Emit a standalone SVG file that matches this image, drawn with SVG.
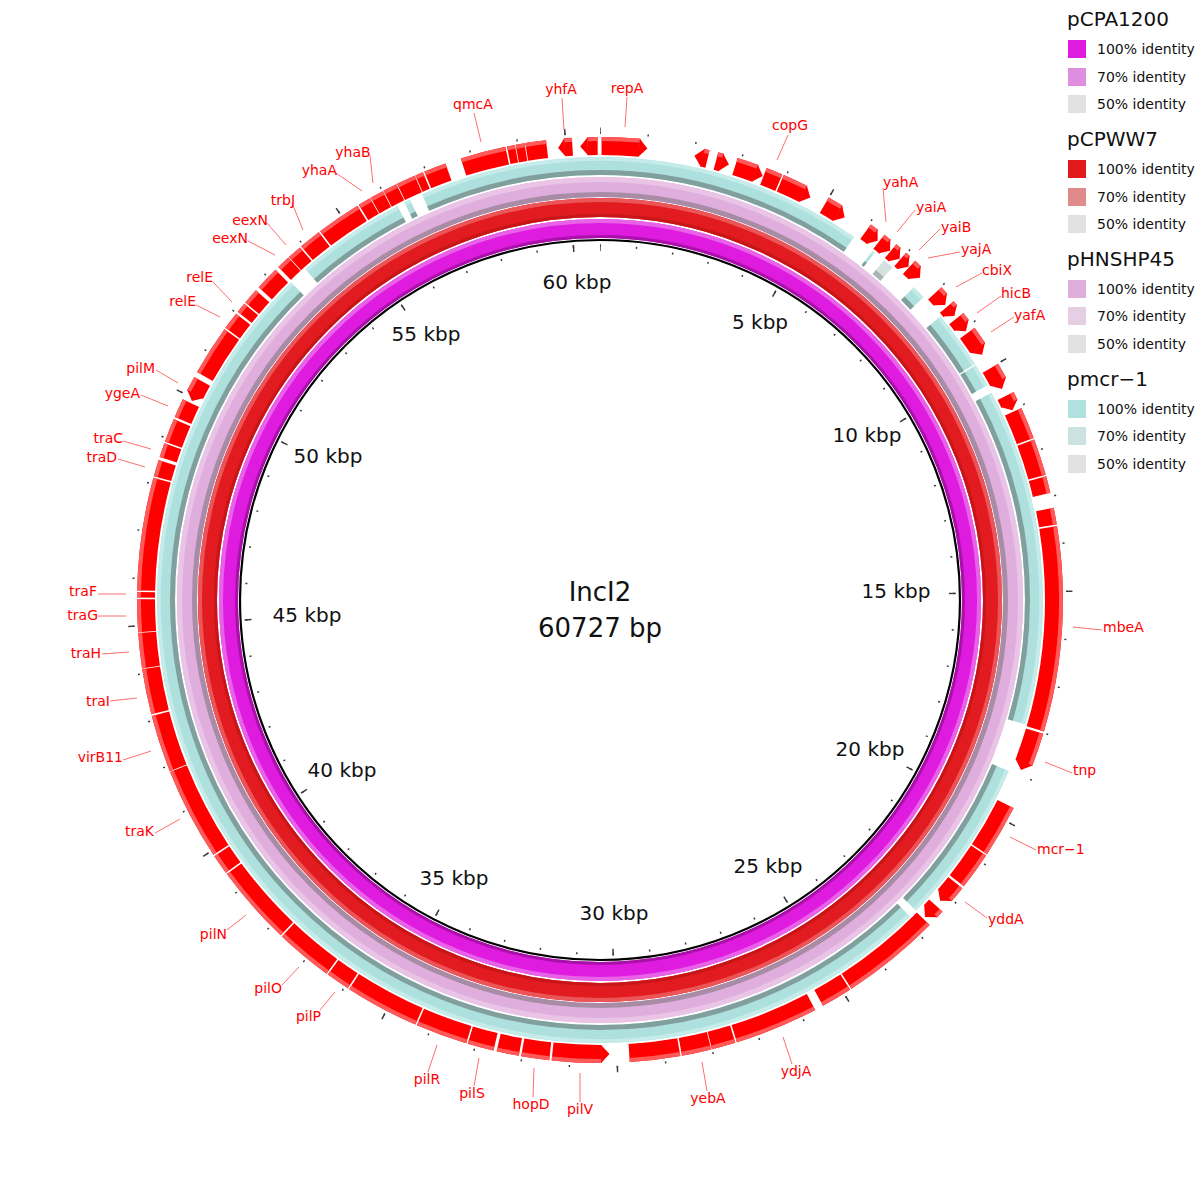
<svg xmlns="http://www.w3.org/2000/svg" xmlns:xlink="http://www.w3.org/1999/xlink" width="1200" height="1200" viewBox="0 0 1200 1200">
<style>
text{font-family:"DejaVu Sans","Liberation Sans",sans-serif}
.lbl{font-size:14px;fill:#FF0000}
.ll line{stroke:#FF6F6F;stroke-width:1}
.kbp{font-size:20px;fill:#111;text-anchor:middle}
.ctr{font-size:26px;fill:#111;text-anchor:middle}
.lt{font-size:20px;fill:#111}
.li{font-size:14px;fill:#111}
.tk{fill:none;stroke:#3a3a3a}
</style>
<defs>
<g id="gb" fill="none" transform="rotate(-90 600 600)">
<circle cx="600" cy="600" r="454" pathLength="360" stroke-dasharray="4.8 355.2" stroke-dashoffset="-0.2"/>
<circle cx="600" cy="600" r="454" pathLength="360" stroke-dasharray="0.7 359.3" stroke-dashoffset="-13"/>
<circle cx="600" cy="600" r="454" pathLength="360" stroke-dasharray="0.7 359.3" stroke-dashoffset="-14.8"/>
<circle cx="600" cy="600" r="454" pathLength="360" stroke-dasharray="2.7 357.3" stroke-dashoffset="-17.3"/>
<circle cx="600" cy="600" r="454" pathLength="360" stroke-dasharray="2.1 357.9" stroke-dashoffset="-21.1"/>
<circle cx="600" cy="600" r="454" pathLength="360" stroke-dasharray="3.2 356.8" stroke-dashoffset="-23.4"/>
<circle cx="600" cy="600" r="454" pathLength="360" stroke-dasharray="2 358" stroke-dashoffset="-29.6"/>
<circle cx="600" cy="600" r="454" pathLength="360" stroke-dasharray="1.1 358.9" stroke-dashoffset="-35.8"/>
<circle cx="600" cy="600" r="454" pathLength="360" stroke-dasharray="1 359" stroke-dashoffset="-37.9"/>
<circle cx="600" cy="600" r="454" pathLength="360" stroke-dasharray="0.7 359.3" stroke-dashoffset="-39.8"/>
<circle cx="600" cy="600" r="454" pathLength="360" stroke-dasharray="0.6 359.4" stroke-dashoffset="-41.4"/>
<circle cx="600" cy="600" r="454" pathLength="360" stroke-dasharray="1 359" stroke-dashoffset="-42.9"/>
<circle cx="600" cy="600" r="454" pathLength="360" stroke-dasharray="1.1 358.9" stroke-dashoffset="-47.5"/>
<circle cx="600" cy="600" r="454" pathLength="360" stroke-dasharray="0.7 359.3" stroke-dashoffset="-49.8"/>
<circle cx="600" cy="600" r="454" pathLength="360" stroke-dasharray="1.1 358.9" stroke-dashoffset="-51.7"/>
<circle cx="600" cy="600" r="454" pathLength="360" stroke-dasharray="2.3 357.7" stroke-dashoffset="-54"/>
<circle cx="600" cy="600" r="454" pathLength="360" stroke-dasharray="2 358" stroke-dashoffset="-59.3"/>
<circle cx="600" cy="600" r="454" pathLength="360" stroke-dasharray="1.1 358.9" stroke-dashoffset="-63.3"/>
<circle cx="600" cy="600" r="454" pathLength="360" stroke-dasharray="4 356" stroke-dashoffset="-65.5"/>
<circle cx="600" cy="600" r="454" pathLength="360" stroke-dasharray="4.6 355.4" stroke-dashoffset="-69.7"/>
<circle cx="600" cy="600" r="454" pathLength="360" stroke-dasharray="2.1 357.9" stroke-dashoffset="-74.5"/>
<circle cx="600" cy="600" r="454" pathLength="360" stroke-dasharray="2.1 357.9" stroke-dashoffset="-78.5"/>
<circle cx="600" cy="600" r="454" pathLength="360" stroke-dasharray="25.7 334.3" stroke-dashoffset="-80.8"/>
<circle cx="600" cy="600" r="454" pathLength="360" stroke-dasharray="4.2 355.8" stroke-dashoffset="-106.8"/>
<circle cx="600" cy="600" r="454" pathLength="360" stroke-dasharray="6.6 353.4" stroke-dashoffset="-116.7"/>
<circle cx="600" cy="600" r="454" pathLength="360" stroke-dasharray="4.7 355.3" stroke-dashoffset="-123.5"/>
<circle cx="600" cy="600" r="454" pathLength="360" stroke-dasharray="2.1 357.9" stroke-dashoffset="-128.5"/>
<circle cx="600" cy="600" r="454" pathLength="360" stroke-dasharray="1 359" stroke-dashoffset="-132.3"/>
<circle cx="600" cy="600" r="454" pathLength="360" stroke-dasharray="12.5 347.5" stroke-dashoffset="-134.6"/>
<circle cx="600" cy="600" r="454" pathLength="360" stroke-dasharray="3.9 356.1" stroke-dashoffset="-147.3"/>
<circle cx="600" cy="600" r="454" pathLength="360" stroke-dasharray="10.5 349.5" stroke-dashoffset="-152.3"/>
<circle cx="600" cy="600" r="454" pathLength="360" stroke-dasharray="3 357" stroke-dashoffset="-163"/>
<circle cx="600" cy="600" r="454" pathLength="360" stroke-dasharray="3.7 356.3" stroke-dashoffset="-166.1"/>
<circle cx="600" cy="600" r="454" pathLength="360" stroke-dasharray="6.3 353.7" stroke-dashoffset="-170"/>
<circle cx="600" cy="600" r="454" pathLength="360" stroke-dasharray="6.2 353.8" stroke-dashoffset="-179.8"/>
<circle cx="600" cy="600" r="454" pathLength="360" stroke-dasharray="3.5 356.5" stroke-dashoffset="-186.3"/>
<circle cx="600" cy="600" r="454" pathLength="360" stroke-dasharray="2.8 357.2" stroke-dashoffset="-190.1"/>
<circle cx="600" cy="600" r="454" pathLength="360" stroke-dasharray="3.3 356.7" stroke-dashoffset="-193.3"/>
<circle cx="600" cy="600" r="454" pathLength="360" stroke-dasharray="6.5 353.5" stroke-dashoffset="-196.8"/>
<circle cx="600" cy="600" r="454" pathLength="360" stroke-dasharray="9.3 350.7" stroke-dashoffset="-203.5"/>
<circle cx="600" cy="600" r="454" pathLength="360" stroke-dasharray="3 357" stroke-dashoffset="-213"/>
<circle cx="600" cy="600" r="454" pathLength="360" stroke-dasharray="7.2 352.8" stroke-dashoffset="-216.2"/>
<circle cx="600" cy="600" r="454" pathLength="360" stroke-dasharray="10.1 349.9" stroke-dashoffset="-223.6"/>
<circle cx="600" cy="600" r="454" pathLength="360" stroke-dasharray="2.5 357.5" stroke-dashoffset="-233.9"/>
<circle cx="600" cy="600" r="454" pathLength="360" stroke-dasharray="11.6 348.4" stroke-dashoffset="-236.6"/>
<circle cx="600" cy="600" r="454" pathLength="360" stroke-dasharray="7.2 352.8" stroke-dashoffset="-248.3"/>
<circle cx="600" cy="600" r="454" pathLength="360" stroke-dasharray="5.7 354.3" stroke-dashoffset="-255.7"/>
<circle cx="600" cy="600" r="454" pathLength="360" stroke-dasharray="4.4 355.6" stroke-dashoffset="-261.5"/>
<circle cx="600" cy="600" r="454" pathLength="360" stroke-dasharray="4.1 355.9" stroke-dashoffset="-266"/>
<circle cx="600" cy="600" r="454" pathLength="360" stroke-dasharray="0.7 359.3" stroke-dashoffset="-270.3"/>
<circle cx="600" cy="600" r="454" pathLength="360" stroke-dasharray="14.1 345.9" stroke-dashoffset="-271.2"/>
<circle cx="600" cy="600" r="454" pathLength="360" stroke-dasharray="2.1 357.9" stroke-dashoffset="-285.5"/>
<circle cx="600" cy="600" r="454" pathLength="360" stroke-dasharray="1.8 358.2" stroke-dashoffset="-288"/>
<circle cx="600" cy="600" r="454" pathLength="360" stroke-dasharray="3 357" stroke-dashoffset="-290"/>
<circle cx="600" cy="600" r="454" pathLength="360" stroke-dasharray="2.4 357.6" stroke-dashoffset="-293.3"/>
<circle cx="600" cy="600" r="454" pathLength="360" stroke-dasharray="1.9 358.1" stroke-dashoffset="-296.9"/>
<circle cx="600" cy="600" r="454" pathLength="360" stroke-dasharray="6.3 353.7" stroke-dashoffset="-299.5"/>
<circle cx="600" cy="600" r="454" pathLength="360" stroke-dasharray="2.2 357.8" stroke-dashoffset="-306"/>
<circle cx="600" cy="600" r="454" pathLength="360" stroke-dasharray="1.3 358.7" stroke-dashoffset="-308.5"/>
<circle cx="600" cy="600" r="454" pathLength="360" stroke-dasharray="2 358" stroke-dashoffset="-310"/>
<circle cx="600" cy="600" r="454" pathLength="360" stroke-dasharray="3 357" stroke-dashoffset="-312.5"/>
<circle cx="600" cy="600" r="454" pathLength="360" stroke-dasharray="1.7 358.3" stroke-dashoffset="-316"/>
<circle cx="600" cy="600" r="454" pathLength="360" stroke-dasharray="1.8 358.2" stroke-dashoffset="-317.8"/>
<circle cx="600" cy="600" r="454" pathLength="360" stroke-dasharray="2.8 357.2" stroke-dashoffset="-319.8"/>
<circle cx="600" cy="600" r="454" pathLength="360" stroke-dasharray="5.6 354.4" stroke-dashoffset="-322.8"/>
<circle cx="600" cy="600" r="454" pathLength="360" stroke-dasharray="1.6 358.4" stroke-dashoffset="-328.6"/>
<circle cx="600" cy="600" r="454" pathLength="360" stroke-dasharray="1.7 358.3" stroke-dashoffset="-330.3"/>
<circle cx="600" cy="600" r="454" pathLength="360" stroke-dasharray="1.8 358.2" stroke-dashoffset="-332.1"/>
<circle cx="600" cy="600" r="454" pathLength="360" stroke-dasharray="2.4 357.6" stroke-dashoffset="-334"/>
<circle cx="600" cy="600" r="454" pathLength="360" stroke-dasharray="1 359" stroke-dashoffset="-336.5"/>
<circle cx="600" cy="600" r="454" pathLength="360" stroke-dasharray="2.8 357.2" stroke-dashoffset="-337.7"/>
<circle cx="600" cy="600" r="454" pathLength="360" stroke-dasharray="5.7 354.3" stroke-dashoffset="-342.5"/>
<circle cx="600" cy="600" r="454" pathLength="360" stroke-dasharray="1 359" stroke-dashoffset="-348.4"/>
<circle cx="600" cy="600" r="454" pathLength="360" stroke-dasharray="1.1 358.9" stroke-dashoffset="-349.5"/>
<circle cx="600" cy="600" r="454" pathLength="360" stroke-dasharray="2.6 357.4" stroke-dashoffset="-350.7"/>
<circle cx="600" cy="600" r="454" pathLength="360" stroke-dasharray="1 359" stroke-dashoffset="-355.5"/>
<circle cx="600" cy="600" r="454" pathLength="360" stroke-dasharray="1.3 358.7" stroke-dashoffset="-358.4"/>
</g>
<g id="ts" fill="none" transform="rotate(-90 600 600)">
<circle cx="600" cy="600" r="434" pathLength="360" stroke-dasharray="58.7 301.3" stroke-dashoffset="-336.3"/>
<circle cx="600" cy="600" r="434" pathLength="360" stroke-dasharray="0.35 359.65" stroke-dashoffset="-38"/>
<circle cx="600" cy="600" r="434" pathLength="360" stroke-dasharray="1.8 358.2" stroke-dashoffset="-45.1"/>
<circle cx="600" cy="600" r="434" pathLength="360" stroke-dasharray="7.6 352.4" stroke-dashoffset="-50.2"/>
<circle cx="600" cy="600" r="434" pathLength="360" stroke-dasharray="3 357" stroke-dashoffset="-58"/>
<circle cx="600" cy="600" r="434" pathLength="360" stroke-dasharray="44.2 315.8" stroke-dashoffset="-62.1"/>
<circle cx="600" cy="600" r="434" pathLength="360" stroke-dasharray="21.8 338.2" stroke-dashoffset="-112.7"/>
<circle cx="600" cy="600" r="434" pathLength="360" stroke-dasharray="180.2 179.8" stroke-dashoffset="-135.6"/>
<circle cx="600" cy="600" r="434" pathLength="360" stroke-dasharray="14.5 345.5" stroke-dashoffset="-318.3"/>
<circle cx="600" cy="600" r="434" pathLength="360" stroke-dasharray="0.8 359.2" stroke-dashoffset="-333.8"/>
</g>
</defs>

<rect width="1200" height="1200" fill="#FFFFFF"/>

<g id="ring-pCPA1200" fill="none">
<circle cx="600" cy="600" r="371.5" stroke="#DF1BDF" stroke-width="19"/>
<circle cx="600" cy="600" r="379" stroke="#E862E8" stroke-width="4"/>
<circle cx="600" cy="600" r="363.5" stroke="#A810A8" stroke-width="3"/>
</g>
<g id="ring-pCPWW7" fill="none">
<circle cx="600" cy="600" r="392.5" stroke="#E11B1F" stroke-width="19"/>
<circle cx="600" cy="600" r="400" stroke="#EB5558" stroke-width="4"/>
<circle cx="600" cy="600" r="384.5" stroke="#C6161A" stroke-width="3"/>
</g>
<g id="ring-pHNSHP45" fill="none">
<circle cx="600" cy="600" r="413" stroke="#E0AEDD" stroke-width="20"/>
<circle cx="600" cy="600" r="420.5" stroke="#EAC4E7" stroke-width="5"/>
<circle cx="600" cy="600" r="405.5" stroke="#A88CA5" stroke-width="5"/>
</g>
<g id="ring-pmcr-1" fill="none">
<use xlink:href="#ts" href="#ts" stroke="#AEE0DE" stroke-width="18"/>
<use xlink:href="#ts" href="#ts" stroke="#C6ECEA" stroke-width="3.4" transform="translate(600 600) scale(1.01613) translate(-600 -600)"/>
<use xlink:href="#ts" href="#ts" stroke="#819F9D" stroke-width="5.1" transform="translate(600 600) scale(0.98502) translate(-600 -600)"/>
<g transform="rotate(-90 600 600)">
<circle cx="600" cy="600" r="434" pathLength="360" stroke-dasharray="1.4 358.6" stroke-dashoffset="-39.9" stroke="#D4E1E0" stroke-width="18"/>
<circle cx="600" cy="600" r="427.5" pathLength="360" stroke-dasharray="1.4 358.6" stroke-dashoffset="-39.9" stroke="#A9B4B3" stroke-width="5"/>
</g>
</g>

<g id="backbone">
<circle cx="600" cy="600" r="360" fill="none" stroke="#000" stroke-width="2.2"/>
<g transform="rotate(-90 600 600)">
<circle class="tk" cx="600" cy="600" r="354" pathLength="60727" stroke-width="2" stroke-dasharray="40 960" stroke-dashoffset="20"/>
<circle class="tk" cx="600" cy="600" r="352.5" pathLength="60727" stroke-width="7" stroke-dasharray="40 4960" stroke-dashoffset="20"/>
<circle class="tk" cx="600" cy="600" r="467" pathLength="60727" stroke-width="2" stroke-dasharray="30 970" stroke-dashoffset="15"/>
<circle class="tk" cx="600" cy="600" r="469.5" pathLength="60727" stroke-width="6" stroke-dasharray="30 4970" stroke-dashoffset="15"/>
</g>
</g>

<g id="genes" fill="none">
<use xlink:href="#gb" href="#gb" stroke="#FF0000" stroke-width="18"/>
<use xlink:href="#gb" href="#gb" stroke="#FF5A5A" stroke-width="3.9" transform="translate(600 600) scale(1.0154) translate(-600 -600)"/>
<g id="gene-tips" fill="#FF0000" transform="translate(600 600)">
<polygon transform="rotate(5)" points="-0.5,-463 7.9,-454 -0.5,-445"/>
<polygon transform="rotate(15.5)" points="-0.5,-463 7.9,-454 -0.5,-445"/>
<polygon transform="rotate(20)" points="-0.5,-463 7.9,-454 -0.5,-445"/>
<polygon transform="rotate(26.6)" points="-0.5,-463 7.9,-454 -0.5,-445"/>
<polygon transform="rotate(31.6)" points="-0.5,-463 7.9,-454 -0.5,-445"/>
<polygon transform="rotate(36.9)" points="-0.5,-463 6.3,-454 -0.5,-445"/>
<polygon transform="rotate(38.9)" points="-0.5,-463 6.3,-454 -0.5,-445"/>
<polygon transform="rotate(40.5)" points="-0.5,-463 6.3,-454 -0.5,-445"/>
<polygon transform="rotate(42)" points="-0.5,-463 6.3,-454 -0.5,-445"/>
<polygon transform="rotate(43.9)" points="-0.5,-463 7.1,-454 -0.5,-445"/>
<polygon transform="rotate(48.6)" points="-0.5,-463 7.1,-454 -0.5,-445"/>
<polygon transform="rotate(50.5)" points="-0.5,-463 6.3,-454 -0.5,-445"/>
<polygon transform="rotate(52.8)" points="-0.5,-463 7.1,-454 -0.5,-445"/>
<polygon transform="rotate(56.3)" points="-0.5,-463 7.9,-454 -0.5,-445"/>
<polygon transform="rotate(61.3)" points="-0.5,-463 7.9,-454 -0.5,-445"/>
<polygon transform="rotate(64.4)" points="-0.5,-463 7.1,-454 -0.5,-445"/>
<polygon transform="rotate(111)" points="-0.5,-463 7.9,-454 -0.5,-445"/>
<polygon transform="rotate(130.6)" points="-0.5,-463 7.1,-454 -0.5,-445"/>
<polygon transform="rotate(133.3)" points="-0.5,-463 7.9,-454 -0.5,-445"/>
<polygon transform="rotate(13)" points="0.5,-463 -7.9,-454 0.5,-445"/>
<polygon transform="rotate(179.8)" points="0.5,-463 -7.9,-454 0.5,-445"/>
<polygon transform="rotate(296.9)" points="0.5,-463 -7.1,-454 0.5,-445"/>
<polygon transform="rotate(355.5)" points="0.5,-463 -6.3,-454 0.5,-445"/>
<polygon transform="rotate(358.4)" points="0.5,-463 -7.1,-454 0.5,-445"/>
</g>
</g>

<g id="label-lines" class="ll">
<line x1="625" y1="127" x2="627" y2="97"/>
<line x1="564" y1="130" x2="562" y2="98"/>
<line x1="481" y1="142" x2="474" y2="113"/>
<line x1="777" y1="160" x2="788" y2="135"/>
<line x1="886" y1="222" x2="883" y2="188"/>
<line x1="897" y1="232" x2="915" y2="210"/>
<line x1="919" y1="250" x2="940" y2="229"/>
<line x1="928" y1="258" x2="960" y2="252"/>
<line x1="956" y1="287" x2="982" y2="273"/>
<line x1="977" y1="313" x2="1001" y2="296"/>
<line x1="991" y1="332" x2="1014" y2="317"/>
<line x1="1073" y1="627" x2="1102" y2="630"/>
<line x1="1045" y1="762" x2="1072" y2="773"/>
<line x1="1010" y1="837" x2="1036" y2="850"/>
<line x1="965" y1="902" x2="987" y2="918"/>
<line x1="783" y1="1037" x2="792" y2="1064"/>
<line x1="702" y1="1062" x2="707" y2="1091"/>
<line x1="580" y1="1073" x2="580" y2="1102"/>
<line x1="534" y1="1068" x2="533" y2="1097"/>
<line x1="479" y1="1058" x2="474" y2="1086"/>
<line x1="437" y1="1045" x2="428" y2="1072"/>
<line x1="335" y1="992" x2="320" y2="1010"/>
<line x1="299" y1="967" x2="282" y2="985"/>
<line x1="246" y1="915" x2="227" y2="930"/>
<line x1="180" y1="819" x2="155" y2="833"/>
<line x1="151" y1="751" x2="123" y2="760"/>
<line x1="137" y1="698" x2="110" y2="701"/>
<line x1="129" y1="652" x2="102" y2="654"/>
<line x1="126" y1="616" x2="98" y2="616"/>
<line x1="126" y1="594" x2="98" y2="594"/>
<line x1="145" y1="467" x2="118" y2="459"/>
<line x1="151" y1="449" x2="123" y2="441"/>
<line x1="168" y1="406" x2="141" y2="395"/>
<line x1="178" y1="383" x2="156" y2="370"/>
<line x1="232" y1="302" x2="213" y2="282"/>
<line x1="220" y1="317" x2="196" y2="305"/>
<line x1="275" y1="255" x2="248" y2="241"/>
<line x1="286" y1="245" x2="267" y2="223"/>
<line x1="303" y1="230" x2="292" y2="203"/>
<line x1="362" y1="191" x2="336" y2="173"/>
<line x1="373" y1="183" x2="370" y2="156"/>
</g>

<g id="gene-labels" class="lbl">
<text x="627" y="93" text-anchor="middle">repA</text>
<text x="561" y="94" text-anchor="middle">yhfA</text>
<text x="473" y="109" text-anchor="middle">qmcA</text>
<text x="790" y="130" text-anchor="middle">copG</text>
<text x="883" y="187">yahA</text>
<text x="916" y="212">yaiA</text>
<text x="941" y="232">yaiB</text>
<text x="961" y="254">yajA</text>
<text x="982" y="275">cbiX</text>
<text x="1001" y="298">hicB</text>
<text x="1014" y="320">yafA</text>
<text x="1103" y="632">mbeA</text>
<text x="1073" y="775">tnp</text>
<text x="1037" y="854">mcr−1</text>
<text x="988" y="924">yddA</text>
<text x="796" y="1076" text-anchor="middle">ydjA</text>
<text x="708" y="1103" text-anchor="middle">yebA</text>
<text x="580" y="1114" text-anchor="middle">pilV</text>
<text x="531" y="1109" text-anchor="middle">hopD</text>
<text x="472" y="1098" text-anchor="middle">pilS</text>
<text x="427" y="1084" text-anchor="middle">pilR</text>
<text x="321" y="1021" text-anchor="end">pilP</text>
<text x="282" y="993" text-anchor="end">pilO</text>
<text x="227" y="939" text-anchor="end">pilN</text>
<text x="154" y="836" text-anchor="end">traK</text>
<text x="123" y="762" text-anchor="end">virB11</text>
<text x="110" y="706" text-anchor="end">traI</text>
<text x="101" y="658" text-anchor="end">traH</text>
<text x="98" y="620" text-anchor="end">traG</text>
<text x="97" y="596" text-anchor="end">traF</text>
<text x="117" y="462" text-anchor="end">traD</text>
<text x="123" y="443" text-anchor="end">traC</text>
<text x="140" y="398" text-anchor="end">ygeA</text>
<text x="155" y="373" text-anchor="end">pilM</text>
<text x="213" y="282" text-anchor="end">relE</text>
<text x="196" y="306" text-anchor="end">relE</text>
<text x="248" y="243" text-anchor="end">eexN</text>
<text x="268" y="225" text-anchor="end">eexN</text>
<text x="283" y="205" text-anchor="middle">trbJ</text>
<text x="337" y="175" text-anchor="end">yhaA</text>
<text x="353" y="157" text-anchor="middle">yhaB</text>
</g>

<g id="scale-labels" class="kbp">
<text x="577" y="289">60 kbp</text>
<text x="760" y="329">5 kbp</text>
<text x="867" y="442">10 kbp</text>
<text x="896" y="598">15 kbp</text>
<text x="870" y="756">20 kbp</text>
<text x="768" y="873">25 kbp</text>
<text x="614" y="920">30 kbp</text>
<text x="454" y="885">35 kbp</text>
<text x="342" y="777">40 kbp</text>
<text x="307" y="622">45 kbp</text>
<text x="328" y="463">50 kbp</text>
<text x="426" y="341">55 kbp</text>
</g>

<g id="title" class="ctr">
<text x="600" y="601">IncI2</text>
<text x="600" y="637">60727 bp</text>
</g>

<g id="legend">
<g id="legend-pCPA1200">
<text class="lt" x="1067" y="26">pCPA1200</text>
<rect x="1068" y="40" width="18" height="18" fill="#E01BE0"/><text class="li" x="1097" y="54">100% identity</text>
<rect x="1068" y="68" width="18" height="18" fill="#DF8EDF"/><text class="li" x="1097" y="82">70% identity</text>
<rect x="1068" y="95" width="18" height="18" fill="#E1E1E1"/><text class="li" x="1097" y="109">50% identity</text>
</g>
<g id="legend-pCPWW7">
<text class="lt" x="1067" y="146">pCPWW7</text>
<rect x="1068" y="160" width="18" height="18" fill="#E31A1C"/><text class="li" x="1097" y="174">100% identity</text>
<rect x="1068" y="188" width="18" height="18" fill="#E08A8A"/><text class="li" x="1097" y="202">70% identity</text>
<rect x="1068" y="215" width="18" height="18" fill="#E1E1E1"/><text class="li" x="1097" y="229">50% identity</text>
</g>
<g id="legend-pHNSHP45">
<text class="lt" x="1067" y="266">pHNSHP45</text>
<rect x="1068" y="280" width="18" height="18" fill="#E0AEDD"/><text class="li" x="1097" y="294">100% identity</text>
<rect x="1068" y="307" width="18" height="18" fill="#E6CFE4"/><text class="li" x="1097" y="321">70% identity</text>
<rect x="1068" y="335" width="18" height="18" fill="#E1E1E1"/><text class="li" x="1097" y="349">50% identity</text>
</g>
<g id="legend-pmcr-1">
<text class="lt" x="1067" y="386">pmcr−1</text>
<rect x="1068" y="400" width="18" height="18" fill="#AFE1DF"/><text class="li" x="1097" y="414">100% identity</text>
<rect x="1068" y="427" width="18" height="18" fill="#CCE2E1"/><text class="li" x="1097" y="441">70% identity</text>
<rect x="1068" y="455" width="18" height="18" fill="#E1E1E1"/><text class="li" x="1097" y="469">50% identity</text>
</g>
</g>
</svg>
